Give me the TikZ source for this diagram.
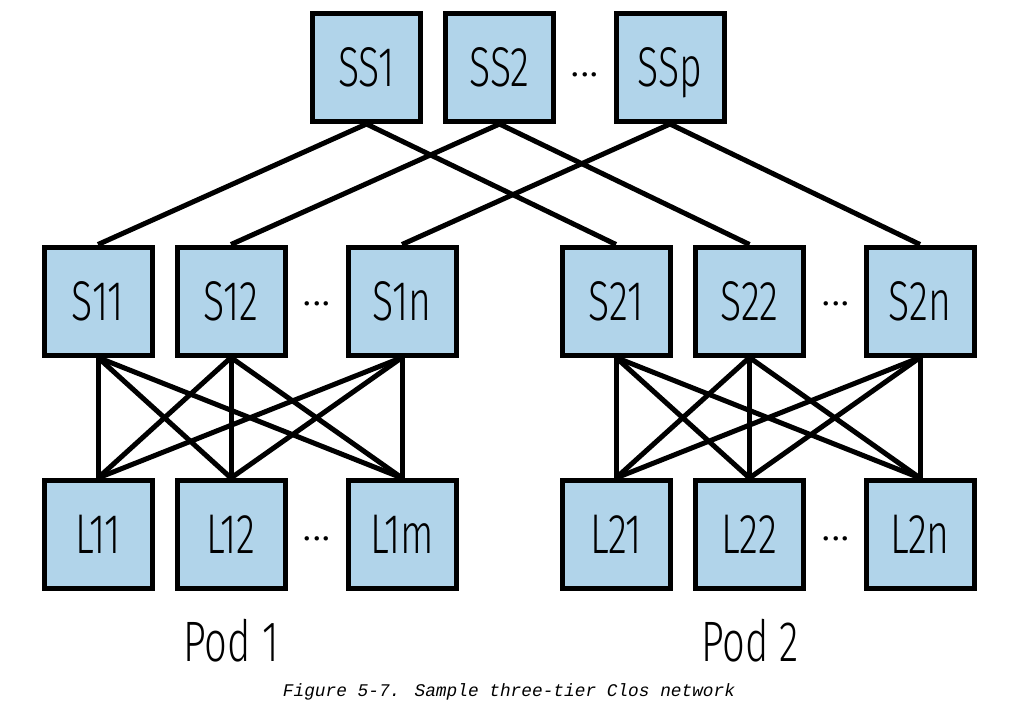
\documentclass[tikz,border=0pt]{standalone}
\usepackage{fontspec}
\newfontfamily\boxfont[FakeStretch=0.70]{Fira Sans Light}
\newfontfamily\dotfont{Fira Sans Light}
\newfontfamily\capfont{Liberation Mono}
\definecolor{boxblue}{RGB}{177,212,234}
\tikzset{
  sw/.style={draw=black, line width=5pt, fill=boxblue, minimum width=108pt, minimum height=108pt,
    inner sep=0pt, font=\boxfont\fontsize{56}{56}\selectfont, text height=38pt, text depth=0pt},
  link/.style={line width=5pt, black},
  dots/.style={font=\dotfont\fontsize{46}{46}\selectfont, inner sep=0pt},
  podlabel/.style={font=\boxfont\fontsize{57}{57}\selectfont, inner sep=0pt, text height=39pt, text depth=0pt}
}
\begin{document}
\begin{tikzpicture}[x=1pt,y=-1pt]
\useasboundingbox (0,0) rectangle (1029,705);
% super spines
\node[sw] (SS1) at (366.5,67.5) {SS1};
\node[sw] (SS2) at (499.5,67.5) {SS2};
\node[sw] (SSp) at (670,67.5) {SSp};
\node[dots] (d0) at (585,75) {...};
% spines
\node[sw] (S11) at (98,301) {S11};
\node[sw] (S12) at (231,301) {S12};
\node[sw] (S1n) at (402,301) {S1n};
\node[sw] (S21) at (616,301) {S21};
\node[sw] (S22) at (749.5,301) {S22};
\node[sw] (S2n) at (920,301) {S2n};
\node[dots] (d1) at (317,304) {...};
\node[dots] (d2) at (836,304) {...};
% leaves
\node[sw] (L11) at (98,534.5) {L11};
\node[sw] (L12) at (231,534.5) {L12};
\node[sw] (L1m) at (402,534.5) {L1m};
\node[sw] (L21) at (616,534.5) {L21};
\node[sw] (L22) at (749.5,534.5) {L22};
\node[sw] (L2n) at (920,534.5) {L2n};
\node[dots] (d3) at (317,539) {...};
\node[dots] (d4) at (836,539) {...};
% labels
\node[podlabel] (p1) at (231,641.5) {Pod 1};
\node[podlabel] (p2) at (750,641.5) {Pod 2};
\node[font=\capfont\itshape\fontsize{17.8}{20}\selectfont, inner sep=0pt] (cap) at (509,692) {Figure 5-7. Sample three-tier Clos network};
% links
\draw[link] (SS1.south) -- (S11.north);
\draw[link] (SS1.south) -- (S21.north);
\draw[link] (SS2.south) -- (S12.north);
\draw[link] (SS2.south) -- (S22.north);
\draw[link] (SSp.south) -- (S1n.north);
\draw[link] (SSp.south) -- (S2n.north);
\foreach \s in {S11,S12,S1n}{
  \foreach \l in {L11,L12,L1m}{
    \draw[link] (\s.south) -- (\l.north);
  }
}
\foreach \s in {S21,S22,S2n}{
  \foreach \l in {L21,L22,L2n}{
    \draw[link] (\s.south) -- (\l.north);
  }
}
\end{tikzpicture}
\end{document}
